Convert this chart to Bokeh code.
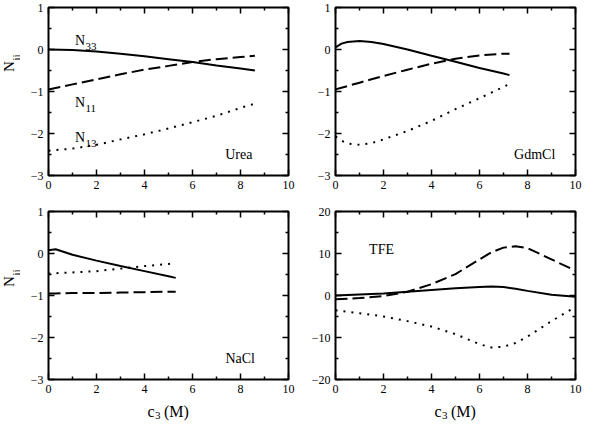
import math
from bokeh.plotting import figure
from bokeh.models import FixedTicker, LinearAxis, Label, Range1d, Spacer
from bokeh.layouts import column, row
from bokeh.embed import file_html
from bokeh.resources import INLINE

FONT = "Liberation Serif"

# ---------------- data ----------------
urea_x = [0, 1, 2, 3, 4, 5, 6, 7, 8, 8.6]
urea_n33 = [0.0, -0.01, -0.05, -0.10, -0.16, -0.23, -0.30, -0.38, -0.45, -0.50]
urea_n11 = [-0.95, -0.83, -0.71, -0.59, -0.48, -0.39, -0.30, -0.23, -0.18, -0.15]
urea_n13 = [-2.41, -2.36, -2.27, -2.14, -2.02, -1.88, -1.73, -1.58, -1.39, -1.29]

gdm_x = [0, 0.25, 0.5, 1, 1.5, 2, 3, 4, 4.5, 5, 6, 7, 7.25]
gdm_n33 = [0.05, 0.14, 0.18, 0.20, 0.18, 0.13, 0.0, -0.15, -0.22, -0.29, -0.44, -0.57, -0.61]
gdm_n11 = [-0.95, -0.91, -0.87, -0.79, -0.71, -0.63, -0.48, -0.34, -0.28, -0.22, -0.14, -0.10, -0.10]
gdm_n13 = [-2.07, -2.17, -2.24, -2.27, -2.23, -2.14, -1.94, -1.70, -1.56, -1.42, -1.16, -0.89, -0.82]

nacl_x = [0, 0.3, 1, 2, 3, 4, 5, 5.3]
nacl_n33 = [0.08, 0.10, -0.03, -0.17, -0.30, -0.42, -0.54, -0.58]
nacl_n11 = [-0.95, -0.95, -0.94, -0.94, -0.93, -0.92, -0.91, -0.91]
nacl_n13 = [-0.48, -0.47, -0.45, -0.42, -0.36, -0.30, -0.25, -0.22]

tfe_x = [0, 1, 2, 3, 4, 5, 6, 6.5, 7, 7.5, 8, 9, 10]
tfe_n33 = [0.0, 0.25, 0.5, 0.9, 1.3, 1.7, 2.0, 2.15, 2.0, 1.6, 1.1, 0.2, -0.3]
tfe_n11 = [-0.9, -0.6, -0.15, 0.9, 2.7, 5.1, 8.6, 10.3, 11.4, 11.7, 11.3, 8.6, 5.9]
tfe_n13 = [-3.5, -4.2, -5.0, -6.1, -7.4, -9.2, -11.6, -12.4, -12.2, -11.3, -9.8, -6.1, -2.7]

x_ticks = [0, 2, 4, 6, 8, 10]
x_minor = [1, 3, 5, 7, 9]
y_ticks = [-3, -2, -1, 0, 1]
y_minor = [-2.5, -1.5, -0.5, 0.5]
tfe_ticks = [-20, -10, 0, 10, 20]
tfe_minor = [-15, -5, 5, 15]


def style_axis(ax, show_labels=True):
    ax.axis_line_color = None
    ax.major_tick_in = 6
    ax.major_tick_out = 0
    ax.minor_tick_in = 3
    ax.minor_tick_out = 0
    ax.major_tick_line_color = "black"
    ax.minor_tick_line_color = "black"
    ax.major_tick_line_width = 1.5
    ax.minor_tick_line_width = 1.5
    ax.major_label_text_font = FONT
    if show_labels:
        ax.major_label_text_color = "black"
        ax.major_label_text_font_size = "12px"
        ax.major_label_standoff = 5
    else:
        ax.major_label_text_color = None
        ax.major_label_text_font_size = "0px"
        ax.major_label_standoff = 0


def make_fig(width, height, bl, br, bt, bb, yr, yt, ym):
    p = figure(width=width, height=height, x_range=Range1d(0, 10), y_range=Range1d(*yr),
               output_backend="svg", toolbar_location=None,
               min_border_left=bl, min_border_right=br, min_border_top=bt, min_border_bottom=bb)
    p.grid.visible = False
    p.outline_line_color = "black"
    p.outline_line_width = 2
    p.outline_line_alpha = 1
    p.background_fill_color = "white"
    p.border_fill_color = "white"
    p.xaxis.ticker = FixedTicker(ticks=x_ticks, minor_ticks=x_minor)
    p.yaxis.ticker = FixedTicker(ticks=yt, minor_ticks=ym)
    for ax in p.xaxis + p.yaxis:
        style_axis(ax)
    top = LinearAxis(ticker=FixedTicker(ticks=x_ticks, minor_ticks=x_minor))
    right = LinearAxis(ticker=FixedTicker(ticks=yt, minor_ticks=ym))
    style_axis(top, False)
    style_axis(right, False)
    p.add_layout(top, "above")
    p.add_layout(right, "right")
    return p


def strip(width, height):
    s = figure(width=width, height=height, x_range=Range1d(0, 1), y_range=Range1d(0, 1),
               x_axis_location=None, y_axis_location=None, output_backend="svg",
               toolbar_location=None, min_border=0)
    s.grid.visible = False
    s.outline_line_color = None
    s.background_fill_color = "white"
    s.border_fill_color = "white"
    return s


def draw(p, x, n33, n11, n13):
    p.line(x, n33, line_color="black", line_width=2)
    p.line(x, n11, line_color="black", line_width=2, line_dash="12 5")
    p.line(x, n13, line_color="black", line_width=2, line_dash="2 6")


def text(p, x, y, s, size="14px", **kw):
    p.add_layout(Label(x=x, y=y, text=s, text_font=FONT, text_font_size=size,
                       text_color="black", text_align="left", text_baseline="alphabetic", **kw))


def subscripted(p, x, y, main, sub, dx):
    text(p, x, y, main)
    text(p, x, y, sub, size="11px", x_offset=dx, y_offset=-6)


def ylabel(s, yc):
    s.add_layout(Label(x=8, y=yc - 4, x_units="screen", y_units="screen", text="N",
                       angle=math.pi / 2, text_font=FONT, text_font_size="15px",
                       text_align="center", text_baseline="middle", text_color="black"))
    s.add_layout(Label(x=15, y=yc + 5, x_units="screen", y_units="screen", text="ij",
                       angle=math.pi / 2, text_font=FONT, text_font_size="11px",
                       text_align="center", text_baseline="middle", text_color="black"))


def xlabel(s, x0):
    s.add_layout(Label(x=x0, y=10, x_units="screen", y_units="screen", text="c",
                       text_font=FONT, text_font_size="16px", text_color="black",
                       text_align="left", text_baseline="alphabetic"))
    s.add_layout(Label(x=x0 + 7.5, y=6, x_units="screen", y_units="screen", text="3",
                       text_font=FONT, text_font_size="11px", text_color="black",
                       text_align="left", text_baseline="alphabetic"))
    s.add_layout(Label(x=x0 + 16.5, y=10, x_units="screen", y_units="screen", text="(M)",
                       text_font=FONT, text_font_size="16px", text_color="black",
                       text_align="left", text_baseline="alphabetic"))


# top-left: Urea
p1 = make_fig(279, 204, 28, 11, 7, 29, (-3, 1), y_ticks, y_minor)
draw(p1, urea_x, urea_n33, urea_n11, urea_n13)
subscripted(p1, 1.1, 0.22, "N", "33", 10.5)
subscripted(p1, 1.1, -1.27, "N", "11", 10.5)
subscripted(p1, 1.1, -2.1, "N", "13", 10.5)
text(p1, 7.36, -2.5, "Urea")

# top-right: GdmCl
p2 = make_fig(285, 204, 36, 9, 7, 29, (-3, 1), y_ticks, y_minor)
draw(p2, gdm_x, gdm_n33, gdm_n11, gdm_n13)
text(p2, 7.44, -2.5, "GdmCl")

# bottom-left: NaCl
p3 = make_fig(279, 193, 28, 11, 7, 18, (-3, 1), y_ticks, y_minor)
draw(p3, nacl_x, nacl_n33, nacl_n11, nacl_n13)
text(p3, 7.37, -2.5, "NaCl")

# bottom-right: TFE
p4 = make_fig(285, 193, 36, 9, 7, 18, (-20, 20), tfe_ticks, tfe_minor)
draw(p4, tfe_x, tfe_n33, tfe_n11, tfe_n13)
text(p4, 1.4, 10.9, "TFE")

# axis-title strips
ys1 = strip(20, 204)
ylabel(ys1, 113)
ys2 = strip(20, 193)
ylabel(ys2, 102)
xs3 = strip(279, 24)
xlabel(xs3, 127)
xs4 = strip(285, 24)
xlabel(xs4, 135)

layout = column(row(ys1, p1, p2), row(ys2, p3, p4), row(Spacer(width=20, height=24), xs3, xs4))
open("out.html", "w").write(file_html(layout, INLINE))
